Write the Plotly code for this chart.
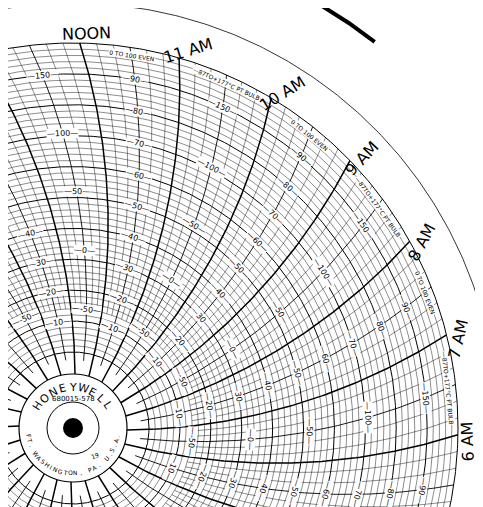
import numpy as np
import plotly.graph_objects as go

# ---- data ----
hours = list(range(24))            # hour lines, 0 = midnight
hour_labels = {0: "MIDNIGHT", 12: "NOON"}
for h in range(1, 12):
    hour_labels[h] = f"{h} AM"
    hour_labels[h + 12] = f"{h} PM"
even_scale_labels = [10, 20, 30, 40, 50, 60, 70, 80, 90]      # 0 TO 100 EVEN
bulb_scale_labels = [-50, 0, 50, 100, 150]                    # -87 TO +177 C
bulb_min, bulb_max = -87, 177
minor_circle_step = 2
major_circle_step = 10
minor_time_step_min = 10
even_text = "0 TO 100 EVEN"
bulb_text = "—87TO+177°C PT BULB"
maker = "HONEYWELL"
part_no = "680015-578"
place = "FT. WASHINGTON, PA. U.S.A."

# ---- geometry ----
CX, CY = 65, 420
R0, R1 = 76, 385          # value 0 and 100 radii
RHUB = 54
RARC = 600                # pen arc radius
W, H = 483, 507

def vr(v):
    return R0 + (R1 - R0) * v / 100.0

def theta_end(t):
    return -1 + 15 * (t - 6)

def arc_theta(t, r):
    return theta_end(t) + np.degrees(np.arccos(R1 / (2 * RARC)) - np.arccos(r / (2 * RARC)))

def xy(r, th):
    th = np.radians(th)
    return CX + r * np.cos(th), CY - r * np.sin(th)

def add_xy(xs, ys, x, y):
    xs.extend(list(x)); ys.extend(list(y)); xs.append(None); ys.append(None)

fig = go.Figure()

# circles
ang = np.linspace(0, 360, 721)
for step_kind in ("minor", "major"):
    xs, ys = [], []
    for v in range(0, 101, minor_circle_step):
        is_major = v % major_circle_step == 0
        if (step_kind == "major") != is_major:
            continue
        x, y = xy(vr(v), ang)
        add_xy(xs, ys, x, y)
    fig.add_trace(go.Scatter(x=xs, y=ys, mode="lines", hoverinfo="skip",
                             line=dict(color="black", width=1.0 if step_kind == "major" else 0.45)))

# time lines
groups = {"minor": ([], []), "half": ([], []), "hour": ([], [])}
for h in hours:
    for m in range(0, 60, minor_time_step_min):
        t = h + m / 60
        if m == 0:
            key, rs = "hour", np.linspace(RHUB, R1, 80)
        elif m == 30:
            key, rs = "half", np.linspace(vr(0) - 8, R1, 80)
        else:
            key, rs = "minor", np.linspace(vr(14), R1, 80)
        x, y = xy(rs, arc_theta(t, rs))
        add_xy(*groups[key], x, y)
widths = {"minor": 0.45, "half": 0.9, "hour": 1.5}
for k, (xs, ys) in groups.items():
    fig.add_trace(go.Scatter(x=xs, y=ys, mode="lines", hoverinfo="skip",
                             line=dict(color="black", width=widths[k])))

# outer paper circle and edge shadows
x, y = xy(425, ang)
fig.add_trace(go.Scatter(x=x, y=y, mode="lines", hoverinfo="skip", line=dict(color="black", width=0.8)))
a = np.linspace(-16, -2, 40)
x, y = xy(412, a)
fig.add_trace(go.Scatter(x=x, y=y, mode="lines", hoverinfo="skip", line=dict(color="black", width=4)))
a = np.linspace(52, 61, 40)
x, y = xy(490, a)
fig.add_trace(go.Scatter(x=x, y=y, mode="lines", hoverinfo="skip", line=dict(color="black", width=4)))

# hub
for r, fill, lw in ((RHUB, "white", 1.2), (26, "white", 1), (10, "black", 0)):
    fig.add_shape(type="circle", x0=CX - r, x1=CX + r, y0=CY - r, y1=CY + r,
                  fillcolor=fill, line=dict(color="black", width=lw), layer="above")
a = np.linspace(200, 340, 60)
x, y = xy(34, a)
fig.add_trace(go.Scatter(x=x, y=y, mode="lines", hoverinfo="skip", line=dict(color="black", width=1)))

ann = []
def letters_on_arc(text, r, center_deg, span, size, top=True):
    n = len(text)
    for i, ch in enumerate(text):
        frac = (i / (n - 1) - 0.5) if n > 1 else 0
        th = center_deg - frac * span if top else center_deg + frac * span
        px, py = xy(r, th)
        rot = 90 - th if top else -(th + 90)
        ann.append(dict(x=px, y=py, text=ch, showarrow=False, textangle=rot,
                        font=dict(size=size, color="black", family="DejaVu Sans")))
letters_on_arc(maker, 41, 90, 115, 11)
letters_on_arc(place, 45, 270, 160, 6, top=False)
ann.append(dict(x=CX, y=CY - 29, text=part_no, showarrow=False,
                font=dict(size=7, color="black", family="DejaVu Sans")))
ann.append(dict(x=CX + 22, y=CY + 27, text="19", showarrow=False, textangle=-20,
                font=dict(size=6, color="black", family="DejaVu Sans")))

def inside(px, py, m=8):
    return m < px < W - m and m < py < H - m

# scale numbers
for h in hours:
    t = h + 0.5
    if h % 2 == 1:
        vals = [(str(v), v) for v in even_scale_labels]
        stext = even_text
    else:
        vals = [(str(T), (T - bulb_min) / (bulb_max - bulb_min) * 100) for T in bulb_scale_labels]
        stext = bulb_text
    for txt, v in vals:
        r = vr(v)
        th = arc_theta(t, r)
        px, py = xy(r, th)
        if inside(px, py, 17):
            ann.append(dict(x=px, y=py, text="—" + txt + "—", showarrow=False, textangle=90 - th,
                            bgcolor="white", borderpad=0,
                            font=dict(size=8, color="black", family="DejaVu Sans")))
    # sector text near outer edge
    th = theta_end(h) + 7
    px, py = xy(377, th)
    if inside(px, py, 36):
        ann.append(dict(x=px, y=py, text=stext, showarrow=False, textangle=90 - th,
                        bgcolor="white", borderpad=0,
                        font=dict(size=6, color="black", family="DejaVu Sans")))
    # hour label
    th = theta_end(h) - 1
    px, py = xy(395, th)
    if inside(px, py, 0):
        ann.append(dict(x=px, y=py, text=hour_labels[h], showarrow=False, textangle=-(90 - th),
                        font=dict(size=16, color="black", family="DejaVu Sans")))

fig.update_layout(
    width=W, height=H, margin=dict(l=0, r=0, t=0, b=0),
    paper_bgcolor="white", plot_bgcolor="white", showlegend=False,
    xaxis=dict(range=[0, W], visible=False, fixedrange=True),
    yaxis=dict(range=[H, 0], visible=False, fixedrange=True),
    annotations=ann,
)
fig.write_html("out.html")
